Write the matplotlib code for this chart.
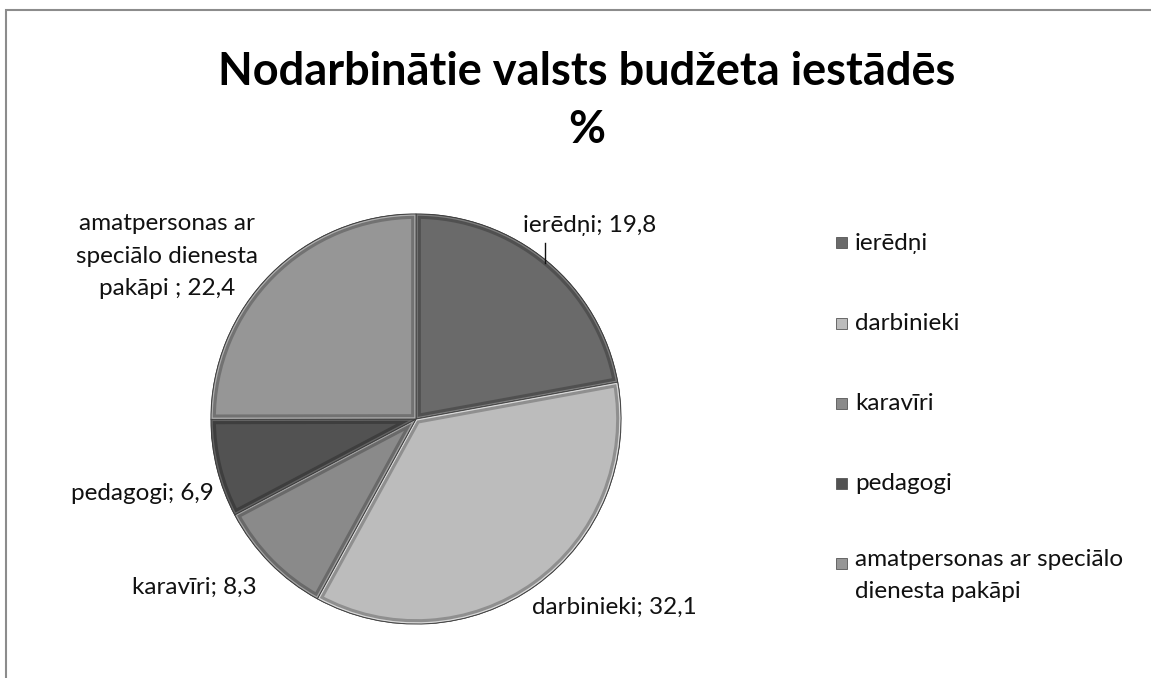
import matplotlib.pyplot as plt
from matplotlib.patches import Rectangle, Wedge
from matplotlib.colors import to_rgb

categories = ["ierēdņi", "darbinieki", "karavīri", "pedagogi",
              "amatpersonas ar speciālo dienesta pakāpi"]
values = [19.8, 32.1, 8.3, 6.9, 22.4]
value_labels = ["19,8", "32,1", "8,3", "6,9", "22,4"]
colors = ["#6a6a6a", "#bcbcbc", "#8a8a8a", "#525252", "#969696"]

legend_names = ["ierēdņi", "darbinieki", "karavīri", "pedagogi",
                "amatpersonas ar speciālo\ndienesta pakāpi"]
label_texts = ["ierēdņi; 19,8", "darbinieki; 32,1", "karavīri; 8,3",
               "pedagogi; 6,9", "amatpersonas ar\nspeciālo dienesta\npakāpi ; 22,4"]

FONT = ["Lato", "DejaVu Sans"]
plt.rcParams['font.family'] = FONT
FS = 17.5

W, H = 1151, 678
fig = plt.figure(figsize=(W / 100, H / 100), dpi=100)

# outer chart frame
fig.patches.append(Rectangle((6 / W, -0.05), 1.2, (H - 10.5) / H + 0.05,
                             transform=fig.transFigure, fill=False,
                             edgecolor="#8c8c8c", linewidth=1.5))

cx, cy, r = 416, 419, 205
ax = fig.add_axes([(cx - r) / W, (H - cy - r) / H, 2 * r / W, 2 * r / H])

wedges, _ = ax.pie(values, colors=colors, startangle=90, counterclock=False,
                   radius=1, wedgeprops=dict(edgecolor="#3c3c3c", linewidth=0.8))

# bevel look: dark stroke then light stroke, clipped inside each wedge
for w, col in zip(wedges, colors):
    rgb = to_rgb(col)
    dark = tuple(c * 0.7 for c in rgb)
    light = tuple(min(1, c * 1.25 + 0.05) for c in rgb)
    for lw, ec, a in [(7, dark, 0.8), (2.5, light, 0.7)]:
        b = Wedge(w.center, w.r, w.theta1, w.theta2, fill=False,
                  edgecolor=ec, linewidth=lw, alpha=a)
        ax.add_patch(b)
        b.set_clip_path(w)
    ax.add_patch(Wedge(w.center, w.r, w.theta1, w.theta2, fill=False,
                       edgecolor="#3c3c3c", linewidth=0.6))

ax.set_xlim(-1, 1)
ax.set_ylim(-1, 1)
ax.axis("off")

# data labels (positions in axes data units)
label_pos = [(0.849, 0.946), (0.967, -0.917), (-1.08, -0.82), (-1.337, -0.361), (-1.215, 0.795)]
for txt, (x, y) in zip(label_texts, label_pos):
    ax.text(x, y, txt, ha="center", va="center", fontsize=FS, color="#111111",
            linespacing=1.65, clip_on=False)
# leader line for ierēdņi
ax.plot([0.63, 0.63], [0.76, 0.86], color="#111111", linewidth=1, clip_on=False)

# title
fig.text(587 / W, 1 - 72 / H, "Nodarbinātie valsts budžeta iestādēs",
         ha="center", va="center", fontsize=32.5, fontweight="bold")
fig.text(587 / W, 1 - 130 / H, "%", ha="center", va="center",
         fontsize=32.5, fontweight="bold")

# legend
leg_y = [243, 323, 403, 483, 563]
for name, col, y in zip(legend_names, colors, leg_y):
    fig.patches.append(Rectangle((836 / W, 1 - (y + 5.5) / H), 11 / W, 11 / H,
                                 transform=fig.transFigure, facecolor=col,
                                 edgecolor="#555555", linewidth=0.6))
    if "\n" in name:
        fig.text(855 / W, 1 - (y - 14) / H, name, ha="left", va="top",
                 fontsize=FS, color="#111111", linespacing=1.65)
    else:
        fig.text(855 / W, 1 - y / H, name, ha="left", va="center",
                 fontsize=FS, color="#111111")

fig.savefig("out.png", dpi=100, facecolor="white")
